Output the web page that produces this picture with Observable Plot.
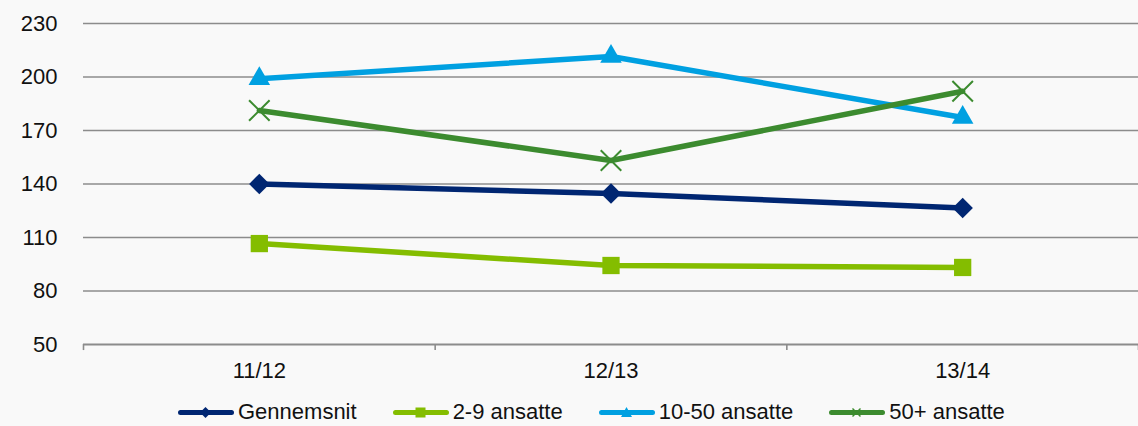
<!DOCTYPE html>
<html>
<head>
<meta charset="utf-8">
<script src="https://cdn.jsdelivr.net/npm/d3@7"></script>
<script src="https://cdn.jsdelivr.net/npm/@observablehq/plot@0.6"></script>
<style>
  html, body { margin: 0; padding: 0; background: #f9f9f9; }
  body { width: 1138px; height: 426px; overflow: hidden; font-family: "Liberation Sans", Arial, sans-serif; }
  #legend { display: flex; align-items: center; padding-left: 178px; gap: 36px; height: 36px; padding-top: 8px; box-sizing: border-box; font-size: 22px; color: #111; }
  .item { display: flex; align-items: center; gap: 4px; }
  .item svg { display: block; }
</style>
</head>
<body>
<div id="chart"></div>
<div id="legend"></div>
<script>
const periods = ["11/12", "12/13", "13/14"];
const seriesNames = ["Gennemsnit", "2-9 ansatte", "10-50 ansatte", "50+ ansatte"];
const gennemsnit = [140, 134.7, 126.5];
const ansatte2_9 = [106.6, 94.3, 93.2];
const ansatte10_50 = [199, 211.5, 177.3];
const ansatte50plus = [181.2, 153.2, 192];
const yTicks = [50, 80, 110, 140, 170, 200, 230];

const colors = ["#002672", "#84bd00", "#00a0e1", "#3c8b2f"];
const symbols = ["diamond2", "square2", "triangle", "times"];
const radii = [9.2, 11, 8, 9.4];

const valuesBySeries = [gennemsnit, ansatte2_9, ansatte10_50, ansatte50plus];
const data = [];
seriesNames.forEach((s, si) => {
  periods.forEach((p, pi) => {
    data.push({series: s, si, period: p, pos: pi + 0.5, value: valuesBySeries[si][pi]});
  });
});

const marks = [
  Plot.ruleY(yTicks.filter(t => t > 50), {stroke: "#8c8c8c", strokeWidth: 1.6}),
  Plot.ruleY([50], {stroke: "#8c8c8c", strokeWidth: 2}),
  Plot.ruleX([0, 1, 2, 3], {x: d => d, y1: 50, y2: 46.6, stroke: "#8c8c8c", strokeWidth: 1.6, clip: false}),
  Plot.axisY({ticks: yTicks, tickSize: 0, tickPadding: 26, fontSize: 22, fill: "#111", label: null}),
  Plot.axisX({ticks: periods.map((p, i) => i + 0.5), tickFormat: v => periods[Math.floor(v)], tickSize: 0, tickPadding: 18, fontSize: 22, fill: "#111", label: null})
];
seriesNames.forEach((s, si) => {
  const d = data.filter(r => r.si === si);
  marks.push(Plot.line(d, {x: "pos", y: "value", stroke: colors[si], strokeWidth: 5.5, curve: "linear"}));
  if (symbols[si] === "times") {
    marks.push(Plot.dot(d, {x: "pos", y: "value", symbol: "times", r: radii[si], stroke: colors[si], strokeWidth: 2}));
  } else {
    marks.push(Plot.dot(d, {x: "pos", y: "value", symbol: symbols[si], r: radii[si], fill: colors[si], stroke: "none"}));
  }
});

const chart = Plot.plot({
  width: 1138,
  height: 390,
  marginLeft: 83,
  marginRight: 0,
  marginTop: 23,
  marginBottom: 46,
  style: {background: "#f9f9f9", fontFamily: "'Liberation Sans', Arial, sans-serif", overflow: "visible"},
  x: {type: "linear", domain: [0, 3], axis: null, label: null},
  y: {domain: [50, 230], axis: null, label: null},
  marks
});
document.getElementById("chart").appendChild(chart);

const legend = document.getElementById("legend");
const symPaths = {
  "diamond2": '<path d="M27.5,10 L33,15.5 L27.5,21 L22,15.5 Z" />',
  "square2": '<rect x="22.5" y="10.5" width="10" height="10" />',
  "triangle": '<path d="M27.5,10 L33,20 L22,20 Z" />',
  "times": null
};
seriesNames.forEach((s, si) => {
  const item = document.createElement("div");
  item.className = "item";
  let marker = symPaths[symbols[si]] ? `<g fill="${colors[si]}">${symPaths[symbols[si]]}</g>`
    : `<g stroke="${colors[si]}" stroke-width="1.5"><line x1="23.5" y1="11.5" x2="31.5" y2="19.5"/><line x1="31.5" y1="11.5" x2="23.5" y2="19.5"/></g>`;
  item.innerHTML = `<svg width="56" height="31"><line x1="2.5" y1="15.5" x2="53.5" y2="15.5" stroke="${colors[si]}" stroke-width="5" stroke-linecap="round"/>${marker}</svg><span>${s}</span>`;
  legend.appendChild(item);
});
</script>
</body>
</html>
